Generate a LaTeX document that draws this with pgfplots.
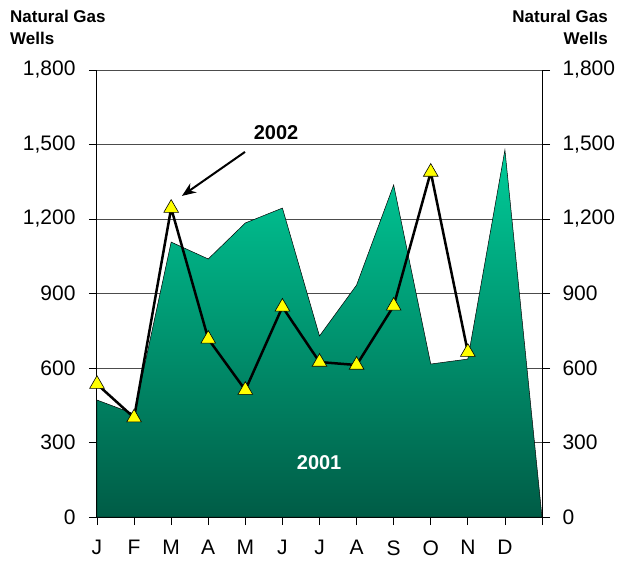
\documentclass[border=0pt]{standalone}
\usepackage{pgfplots}
\pgfplotsset{compat=1.18}
\usetikzlibrary{arrows.meta}
\usepackage{fontspec}
\setmainfont{Liberation Sans}
\definecolor{gtop}{RGB}{0,204,153}
\definecolor{gbot}{RGB}{0,92,70}
\definecolor{myyellow}{RGB}{255,255,0}
\begin{document}
\begin{tikzpicture}
\path[use as bounding box] (-97bp,-44bp) rectangle (521bp,517bp);
\pgfplotsset{
  common/.style={
    at={(0,0)}, anchor=south west, scale only axis, width=445bp, height=447bp,
    xmin=0, xmax=12, ymin=0, ymax=1800,
    ytick={0,300,...,1800},
    tick align=outside, major tick length=8bp,
    tick style={black, line width=0.8bp},
    axis line style={black, line width=1bp},
    ticklabel style={font=\fontsize{21bp}{24bp}\selectfont},
    yticklabel shift=10bp, xticklabel shift=12bp,
    /pgf/number format/assume math mode=true,
    /pgf/number format/1000 sep={,},
  }
}
\begin{axis}[common,
  axis y line*=left, axis x line*=bottom,
  xtick={0,...,12}, xticklabels={J,F,M,A,M,J,J,A,S,O,N,D,},
  ymajorgrids, grid style={black!70, line width=0.8bp},
  clip=false,
]
\addplot[draw=black, line width=0.5bp, top color=gtop, bottom color=gbot]
  coordinates {(0,471) (1,415) (2,1107) (3,1039) (4,1184) (5,1244) (6,729) (7,934) (8,1337) (9,616) (10,636) (11,1478) (12,0)} \closedcycle;
\addplot[black, line width=2.5bp, mark=triangle*, mark size=8.5,
  mark options={fill=myyellow, draw=black, line width=0.6bp}]
  coordinates {(0,535) (1,400) (2,1244) (3,717) (4,511) (5,846) (6,624) (7,612) (8,850) (9,1389) (10,664)};
\node[font=\bfseries\fontsize{20bp}{24bp}\selectfont] at (axis cs:4.83,1546) {2002};
\node[font=\bfseries\fontsize{20bp}{24bp}\selectfont, text=white] at (axis cs:5.99,217) {2001};
\draw[-{Stealth[length=14bp,width=11bp]}, line width=2bp] (axis cs:3.99,1470) -- (axis cs:2.29,1293);
\end{axis}
\begin{axis}[common,
  axis y line*=right, axis x line=none, yticklabel shift=9bp,
]
\end{axis}
\node[anchor=north west, inner sep=0pt, align=left, font=\bfseries\fontsize{17bp}{22bp}\selectfont] at (-87bp,507bp) {Natural Gas\\Wells};
\node[anchor=north east, inner sep=0pt, align=right, font=\bfseries\fontsize{17bp}{22bp}\selectfont] at (511bp,507bp) {Natural Gas\\Wells};
\end{tikzpicture}
\end{document}
